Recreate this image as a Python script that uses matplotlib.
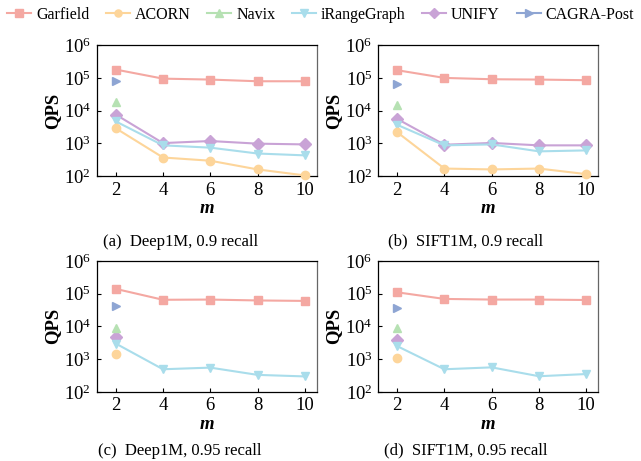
import numpy as np
import matplotlib
matplotlib.use("Agg")
import matplotlib.pyplot as plt

plt.rcParams['font.family'] = ['Liberation Serif', 'DejaVu Serif']
plt.rcParams['mathtext.fontset'] = 'stix'

m = [2, 4, 6, 8, 10]

methods = ['Garfield', 'ACORN', 'Navix', 'iRangeGraph', 'UNIFY', 'CAGRA-Post']
colors = ['#F4A8A2', '#FDD59A', '#B6E1B3', '#A9DDEB', '#C9A3D6', '#8EA5D3']
markers = ['s', 'o', '^', 'v', 'D', '>']

# (a) Deep1M, 0.9 recall
a_garfield = [1.8e5, 9.5e4, 8.9e4, 7.9e4, 7.9e4]
a_acorn = [2.9e3, 3.7e2, 2.95e2, 1.6e2, 1.05e2]
a_navix = [1.8e4]
a_irange = [4.7e3, 8.7e2, 7.4e2, 4.9e2, 4.3e2]
a_unify = [7.6e3, 1.02e3, 1.18e3, 9.8e2, 9.3e2]
a_cagra = [7.9e4]

# (b) SIFT1M, 0.9 recall
b_garfield = [1.72e5, 1.0e5, 9.1e4, 8.9e4, 8.5e4]
b_acorn = [2.2e3, 1.7e2, 1.6e2, 1.7e2, 1.15e2]
b_navix = [1.45e4]
b_irange = [3.7e3, 8.7e2, 9.3e2, 5.7e2, 6.1e2]
b_unify = [5.6e3, 9.1e2, 1.03e3, 8.7e2, 8.7e2]
b_cagra = [6.7e4]

# (c) Deep1M, 0.95 recall
c_garfield = [1.4e5, 6.5e4, 6.6e4, 6.2e4, 6.0e4]
c_acorn = [1.44e3]
c_navix = [9.1e3]
c_irange = [3.0e3, 4.9e2, 5.5e2, 3.3e2, 2.96e2]
c_unify = [4.9e3]
c_cagra = [4.2e4]

# (d) SIFT1M, 0.95 recall
d_garfield = [1.1e5, 6.9e4, 6.6e4, 6.6e4, 6.4e4]
d_acorn = [1.1e3]
d_navix = [8.7e3]
d_irange = [2.5e3, 4.9e2, 5.6e2, 3.0e2, 3.5e2]
d_unify = [3.8e3]
d_cagra = [3.6e4]

panels = [
    ('(a)  Deep1M, 0.9 recall', [a_garfield, a_acorn, a_navix, a_irange, a_unify, a_cagra]),
    ('(b)  SIFT1M, 0.9 recall', [b_garfield, b_acorn, b_navix, b_irange, b_unify, b_cagra]),
    ('(c)  Deep1M, 0.95 recall', [c_garfield, c_acorn, c_navix, c_irange, c_unify, c_cagra]),
    ('(d)  SIFT1M, 0.95 recall', [d_garfield, d_acorn, d_navix, d_irange, d_unify, d_cagra]),
]

fig = plt.figure(figsize=(6.41, 4.61), dpi=100)

lefts = [0.151, 0.590]
bottoms = [0.618, 0.150]
w, h = 0.343, 0.284
cap_x = [0.281, 0.726]
cap_y = [0.476, 0.022]

handles = []
for i, (cap, series) in enumerate(panels):
    r, c = divmod(i, 2)
    ax = fig.add_axes([lefts[c], bottoms[r], w, h])
    # draw bottom series first so Garfield sits on top
    for j in reversed(range(len(methods))):
        vals = series[j]
        line, = ax.plot(m[:len(vals)], vals, color=colors[j], marker=markers[j],
                        markersize=6, linewidth=1.5, label=methods[j],
                        clip_on=False, zorder=3 + (6 - j))
        if i == 0:
            handles.insert(0, line)
    ax.set_yscale('log')
    ax.set_ylim(1e2, 1e6)
    ax.set_xlim(1.2, 10.5)
    ax.set_xticks(m)
    ax.set_yticks([1e2, 1e3, 1e4, 1e5, 1e6])
    ax.yaxis.set_minor_locator(matplotlib.ticker.NullLocator())
    ax.tick_params(direction='in', length=3, width=0.8, labelsize=13.5, pad=4)
    ax.set_ylabel('QPS', fontsize=13.5, fontweight='bold', labelpad=2)
    ax.set_xlabel('m', fontsize=13.5, fontweight='bold', fontstyle='italic', labelpad=1)
    for s in ax.spines.values():
        s.set_linewidth(0.9)
    ax.spines['right'].set_color('#666666')
    fig.text(cap_x[c], cap_y[r], cap, fontsize=12, ha='center', va='center')

fig.legend(handles=handles, labels=methods, loc='upper center', bbox_to_anchor=(0.5, 1.01),
           ncol=6, frameon=False, fontsize=11.5, handlelength=1.5, handletextpad=0.3,
           columnspacing=1.05, markerscale=0.85, borderaxespad=0.3)

fig.savefig('out.png', dpi=100)
